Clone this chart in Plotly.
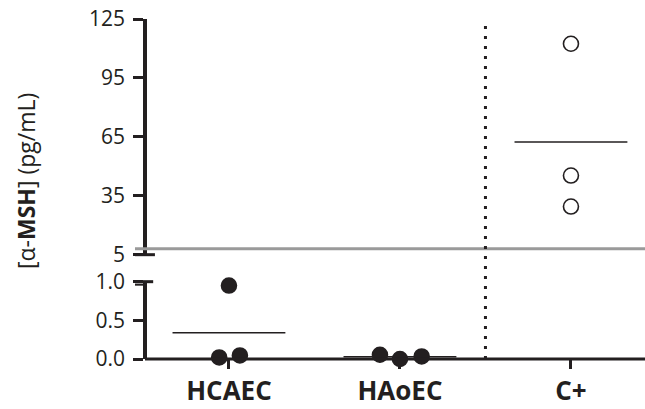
import plotly.graph_objects as go

# ---- data ----
categories = ["HCAEC", "HAoEC", "C+"]
hcaec = [0.95, 0.02, 0.046]
haoec = [0.055, 0.0, 0.033]
cpos = [112.4, 45.3, 29.5]
jitter_hcaec = [0.0, -0.057, 0.064]
jitter_haoec = [-0.117, 0.0, 0.127]
jitter_cpos = [0.0, 0.0, 0.0]
lod_value = 8.0
top_ticks = [5, 35, 65, 95, 125]
bottom_ticks = [0.0, 0.5, 1.0]

INK = "#231f20"
FONT = "Open Sans"

# layout constants
X_RANGE = [-0.988, 2.433]
AXIS_X = -0.491            # where the y axes sit (data units)
BOT_DOMAIN, BOT_RANGE = [0, 0.2274], [0, 1.0]
TOP_DOMAIN, TOP_RANGE = [0.3068, 1.0], [5, 125]
PLOT_W, PLOT_H = 585.0, 340.0


def px(v):
    return (v - X_RANGE[0]) / (X_RANGE[1] - X_RANGE[0])


def py(v, dom, rng):
    return dom[0] + (v - rng[0]) / (rng[1] - rng[0]) * (dom[1] - dom[0])


AX = px(AXIS_X)
TICK = 10 / PLOT_W

fig = go.Figure()


def add_group(idx, vals, jit, yaxis, filled):
    xs = [idx + j for j in jit]
    fig.add_trace(go.Scatter(
        x=xs, y=vals, mode="markers", yaxis=yaxis, cliponaxis=False,
        marker=dict(size=15, symbol="circle" if filled else "circle-open",
                    color=INK, line=dict(width=1.6, color=INK)),
        showlegend=False, hoverinfo="skip"))
    m = sum(vals) / len(vals)
    fig.add_trace(go.Scatter(
        x=[idx - 0.33, idx + 0.33], y=[m, m], mode="lines", yaxis=yaxis,
        cliponaxis=False, line=dict(color=INK, width=1.6),
        showlegend=False, hoverinfo="skip"))


add_group(0, hcaec, jitter_hcaec, "y", True)
add_group(1, haoec, jitter_haoec, "y", True)
add_group(2, cpos, jitter_cpos, "y2", False)


def pline(x0, x1, y0, y1, w=3, color=INK, dash=None):
    ln = dict(color=color, width=w)
    if dash:
        ln["dash"] = dash
    return dict(type="line", xref="paper", yref="paper", x0=x0, x1=x1, y0=y0, y1=y1,
                line=ln, layer="above")


p5 = py(5, TOP_DOMAIN, TOP_RANGE)
p1 = py(1.0, BOT_DOMAIN, BOT_RANGE)
plod = py(lod_value, TOP_DOMAIN, TOP_RANGE)
shapes = [
    # x axis line (from the y axis to the right edge)
    pline(AX, 1.0, 0, 0, w=3),
    # detection-limit line
    pline(AX - TICK, 1.0, plod, plod, w=3, color="#9a9a9a"),
    # group separator
    pline(px(1.5), px(1.5), 0, 1, w=3, dash="3px,7px"),
    # axis-break marks
    pline(AX - TICK, AX + 0.017, p5, p5),
    pline(AX - TICK, AX + 0.014, p1, p1),
    pline(AX - TICK, AX, p1 - 3 / PLOT_H, p1 - 3 / PLOT_H, w=2),
]

fig.update_layout(
    width=645, height=409,
    margin=dict(l=60, r=0, t=19, b=50),
    paper_bgcolor="white", plot_bgcolor="white",
    font=dict(family=FONT, color=INK, size=21),
    shapes=shapes,
    xaxis=dict(
        domain=[0, 1], range=X_RANGE, tickvals=[0, 1, 2],
        ticktext=["<b>%s</b>" % c for c in categories],
        tickfont=dict(size=26, family=FONT, color=INK),
        showline=False,
        ticks="outside", ticklen=9, tickwidth=3, tickcolor=INK,
        showgrid=False, zeroline=False, anchor="y",
    ),
    yaxis=dict(
        domain=BOT_DOMAIN, range=BOT_RANGE, tickvals=bottom_ticks,
        ticktext=["%.1f" % v for v in bottom_ticks],
        anchor="free", position=AX,
        showline=True, linecolor=INK, linewidth=3.5,
        ticks="outside", ticklen=10, tickwidth=3, tickcolor=INK,
        showgrid=False, zeroline=False, tickfont=dict(size=21),
        ticklabelstandoff=4,
    ),
    yaxis2=dict(
        domain=TOP_DOMAIN, range=TOP_RANGE, tickvals=top_ticks,
        anchor="free", position=AX,
        showline=True, linecolor=INK, linewidth=3.5,
        ticks="outside", ticklen=10, tickwidth=3, tickcolor=INK,
        showgrid=False, zeroline=False, tickfont=dict(size=21),
        ticklabelstandoff=4,
    ),
    annotations=[dict(
        text="[α-<b>MSH</b>] (pg/mL)", xref="paper", yref="paper",
        x=(26 - 60) / PLOT_W, y=0.5235, xanchor="center", yanchor="middle",
        textangle=-90, showarrow=False, font=dict(size=23, family=FONT, color=INK))],
)

fig.write_html("out.html")
